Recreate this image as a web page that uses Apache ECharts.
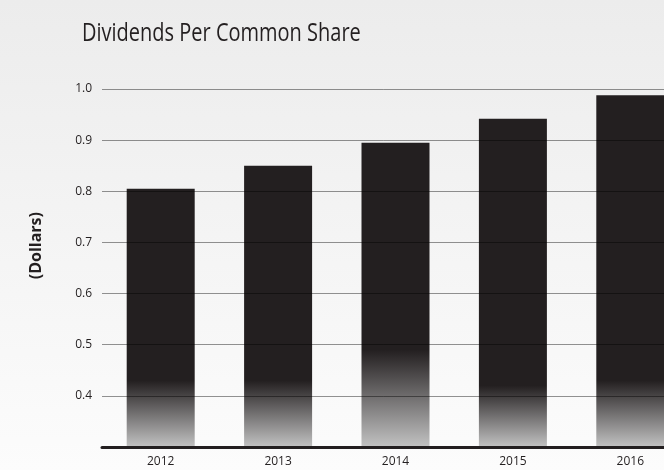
<!DOCTYPE html>
<html>
<head>
<meta charset="utf-8">
<script src="https://cdn.jsdelivr.net/npm/echarts@6/dist/echarts.min.js"></script>
<style>
  html, body { margin: 0; padding: 0; }
  #chart { width: 664px; height: 470px; }
</style>
</head>
<body>
<div id="chart"></div>
<script>
const titleText = 'Dividends Per Common Share';
const axisName = '(Dollars)';
const years = ['2012', '2013', '2014', '2015', '2016'];
const dividends = [0.805, 0.85, 0.895, 0.942, 0.988];
// value at which each bar's dark fill starts fading toward the baseline
const fadeStart = [0.43, 0.43, 0.49, 0.42, 0.43];

const yMin = 0.3, yMax = 1.0, yStep = 0.1;
const FONT = '"Open Sans", "Noto Sans", sans-serif';

const chart = echarts.init(document.getElementById('chart'), null, { renderer: 'canvas' });

const barData = dividends.map((v, i) => {
  const off = Math.min(0.99, Math.max(0, (v - fadeStart[i]) / (v - yMin)));
  return {
    value: v,
    itemStyle: {
      color: {
        type: 'linear', x: 0, y: 0, x2: 0, y2: 1,
        colorStops: [
          { offset: 0, color: '#231f20' },
          { offset: off, color: '#231f20' },
          { offset: 1, color: '#c2c2c2' }
        ]
      }
    }
  };
});

chart.setOption({
  backgroundColor: {
    type: 'linear', x: 0, y: 0, x2: 0, y2: 1,
    colorStops: [
      { offset: 0, color: '#ececec' },
      { offset: 1, color: '#fcfcfc' }
    ]
  },
  animation: false,
  graphic: [{
    type: 'text',
    x: 82,
    y: 21,
    scaleX: 0.8,
    style: { text: titleText, font: '25px ' + FONT, fill: '#231f20' }
  }, {
    type: 'text',
    left: 28,
    top: 212,
    rotation: Math.PI / 2,
    style: { text: axisName, font: 'bold 16px ' + FONT, fill: '#231f20' }
  }],
  grid: { left: 102, right: -25, top: 89, bottom: 23, outerBoundsMode: 'none', containLabel: false },
  xAxis: {
    type: 'category',
    data: years,
    axisLine: { show: true, lineStyle: { color: '#231f20', width: 3 } },
    axisTick: { show: false },
    axisLabel: { fontFamily: FONT, fontSize: 12, color: '#231f20', margin: 9 },
    z: 5
  },
  yAxis: {
    type: 'value',
    min: yMin,
    max: yMax,
    interval: yStep,
    axisLine: { show: false },
    axisTick: { show: false },
    axisLabel: {
      fontFamily: FONT, fontSize: 12, color: '#231f20', margin: 10,
      formatter: v => (v < yMin + yStep / 2 ? '' : v.toFixed(1))
    },
    splitLine: { show: true, lineStyle: { color: 'rgba(0,0,0,0.42)', width: 1 } },
    z: 4
  },
  series: [{
    type: 'bar',
    data: barData,
    barWidth: 68,
    z: 2
  }]
});
</script>
</body>
</html>
